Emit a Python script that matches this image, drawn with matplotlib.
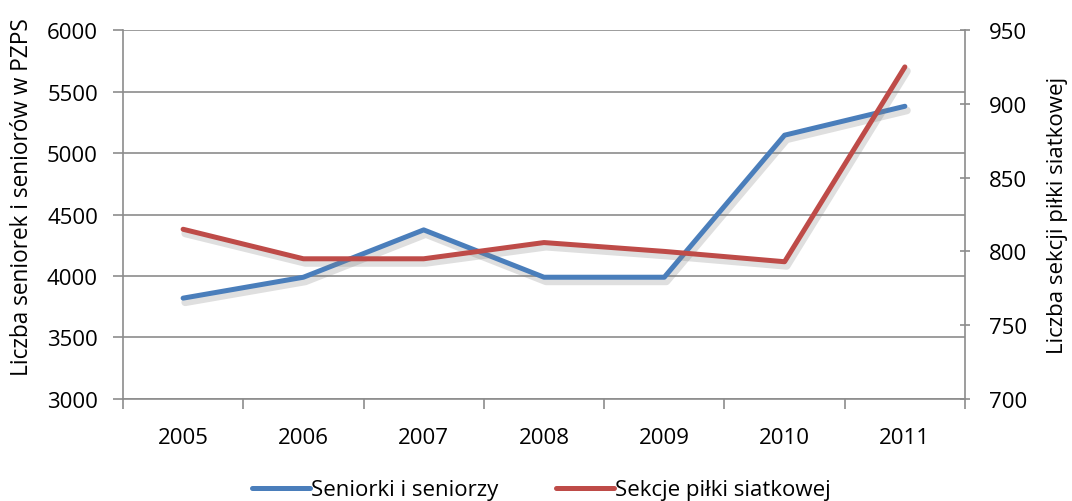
import matplotlib
matplotlib.use("Agg")
import matplotlib.pyplot as plt
import matplotlib.patheffects as pe
from matplotlib.lines import Line2D
import numpy as np

plt.rcParams['font.family'] = ['Open Sans', 'DejaVu Sans']

years = ['2005', '2006', '2007', '2008', '2009', '2010', '2011']
seniorzy = [3820, 3990, 4375, 3990, 3990, 5145, 5380]
sekcje = [815, 795, 795, 806, 800, 793, 925]

blue = '#4A7EBB'
red = '#BE4B48'
grid = '#8C8C8C'
fs = 16

fig = plt.figure(figsize=(10.72, 5.02), dpi=100)
ax = fig.add_axes([0.1147, 0.2032, 0.7855, 0.735])
ax2 = ax.twinx()

x = np.arange(len(years))
shadow = [pe.SimpleLineShadow(offset=(1.5, -3), shadow_color='#808080', alpha=0.25, linewidth=5.5),
          pe.Normal()]
ax.plot(x, seniorzy, color=blue, lw=3.6, solid_capstyle='round', path_effects=shadow, zorder=3)
ax2.plot(x, sekcje, color=red, lw=3.6, solid_capstyle='round', path_effects=shadow, zorder=3)

ax.set_xlim(-0.5, len(years) - 0.5)
ax.set_ylim(3000, 6000)
ax.set_yticks(np.arange(3000, 6001, 500))
ax2.set_ylim(700, 950)
ax2.set_yticks(np.arange(700, 951, 50))

ax.set_xticks(x)
ax.set_xticklabels(years)
ax.set_xticks(np.arange(-0.5, len(years), 1), minor=True)
ax.tick_params(axis='x', which='major', length=0, pad=20, labelsize=fs)
ax.tick_params(axis='x', which='minor', length=7, color=grid, width=1.2)
ax.tick_params(axis='y', length=7, color=grid, width=1.2, labelsize=fs, pad=11)
ax2.tick_params(axis='y', length=7, color=grid, width=1.2, labelsize=fs, pad=14, direction='inout')

ax.grid(axis='y', color=grid, lw=1.2)
ax.set_axisbelow(True)
for a in (ax, ax2):
    for s in a.spines.values():
        s.set_visible(False)
for a, side in ((ax, 'left'), (ax, 'bottom'), (ax2, 'right')):
    a.spines[side].set_visible(True)
    a.spines[side].set_color(grid)
    a.spines[side].set_linewidth(1.2)

ax.set_ylabel('Liczba seniorek i seniorów w PZPS', fontsize=16.3)
ax.yaxis.set_label_coords(-0.106, 0.55)
ax2.set_ylabel('Liczba sekcji piłki siatkowej', fontsize=fs, labelpad=14)

h1 = Line2D([], [], color=blue, lw=3.6, solid_capstyle='round')
h2 = Line2D([], [], color=red, lw=3.6, solid_capstyle='round')
fig.legend(handles=[h1, h2], labels=['Seniorki i seniorzy', 'Sekcje piłki siatkowej'],
           loc='center', bbox_to_anchor=(0.505, 0.022), ncol=2, frameon=False,
           fontsize=fs, handlelength=2.6, handletextpad=0.05, columnspacing=2.6)

fig.savefig('out.png', dpi=100)
